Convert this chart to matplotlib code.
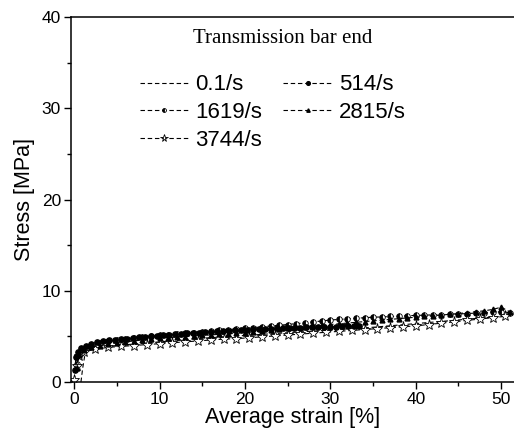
import matplotlib
matplotlib.use("Agg")
import matplotlib.pyplot as plt
from matplotlib.ticker import MultipleLocator

# strain [%] / stress [MPa]
labels = ["0.1/s", "1619/s", "3744/s", "514/s", "2815/s"]

strain_01 = [0.8, 1.0, 1.3, 2.0, 5.0, 10, 15, 20, 25, 30, 35, 40, 45, 50, 51]
stress_01 = [0.0, 1.5, 3.2, 3.6, 4.0, 4.4, 4.8, 5.1, 5.4, 5.7, 6.0, 6.4, 6.8, 7.2, 7.3]

strain_514 = [0.1, 0.2, 0.4, 0.8, 1.4, 2.0, 2.7, 3.4, 4.1, 4.8, 5.5, 6.2, 6.9, 7.6,
              8.3, 9.0, 9.7, 10.4, 11.1, 11.8, 12.5, 13.2, 13.9, 14.6, 15.3, 16.0,
              16.7, 17.4, 18.1, 18.8, 19.5, 20.2, 20.9, 21.6, 22.3, 23.0, 23.7, 24.4,
              25.1, 25.8, 26.5, 27.2, 27.9, 28.6, 29.3, 30.0, 30.7, 31.4, 32.1, 32.8, 33.4]
stress_514 = [1.3, 2.7, 3.3, 3.7, 4.0, 4.2, 4.35, 4.45, 4.55, 4.62, 4.7, 4.76, 4.82, 4.88,
              4.94, 5.0, 5.06, 5.12, 5.18, 5.23, 5.28, 5.33, 5.38, 5.42, 5.46, 5.5,
              5.54, 5.58, 5.62, 5.66, 5.7, 5.73, 5.76, 5.79, 5.82, 5.85, 5.88, 5.9,
              5.92, 5.94, 5.96, 5.98, 6.0, 6.02, 6.04, 6.06, 6.08, 6.1, 6.12, 6.14, 6.15]

strain_1619 = [0.3, 0.7, 1.3, 2, 3, 4, 5, 6, 7, 8, 9, 10, 11, 12, 13, 14, 15, 16, 17,
               18, 19, 20, 21, 22, 23, 24, 25, 26, 27, 28, 29, 30, 31, 32, 33, 34, 35,
               36, 37, 38, 39, 40, 41, 42, 43, 44, 45, 46, 47, 48, 49, 50, 51]
stress_1619 = [2.0, 3.2, 3.7, 4.0, 4.25, 4.45, 4.6, 4.7, 4.8, 4.9, 5.0, 5.1, 5.18, 5.25,
               5.34, 5.4, 5.5, 5.57, 5.66, 5.73, 5.82, 5.9, 5.97, 6.06, 6.13, 6.22, 6.3,
               6.4, 6.48, 6.6, 6.68, 6.8, 6.85, 6.92, 6.97, 7.05, 7.1, 7.13, 7.18, 7.2,
               7.26, 7.3, 7.32, 7.36, 7.38, 7.42, 7.45, 7.5, 7.55, 7.6, 7.64, 7.7, 7.6]

strain_2815 = [0.3, 0.6, 1.2, 2, 3, 4, 5, 6, 7, 8, 9, 10, 11, 12, 13, 14, 15, 16, 17,
               18, 19, 20, 21, 22, 23, 24, 25, 26, 27, 28, 29, 30, 31, 32, 33, 34, 35,
               36, 37, 38, 39, 40, 41, 42, 43, 44, 45, 46, 47, 48, 49, 50, 51]
stress_2815 = [1.5, 3.0, 3.5, 3.8, 4.0, 4.15, 4.3, 4.4, 4.5, 4.6, 4.7, 4.8, 4.86, 4.92,
               4.98, 5.04, 5.1, 5.16, 5.22, 5.28, 5.34, 5.4, 5.5, 5.6, 5.7, 5.8, 5.9,
               5.98, 6.06, 6.14, 6.22, 6.3, 6.38, 6.46, 6.54, 6.62, 6.7, 6.78, 6.86,
               6.94, 7.02, 7.1, 7.18, 7.26, 7.34, 7.42, 7.5, 7.6, 7.7, 7.8, 7.95, 8.2, 7.7]

strain_3744 = [0, 0.3, 0.6, 1.2, 2.5, 4, 5.5, 7, 8.5, 10, 11.5, 13, 14.5, 16, 17.5, 19,
               20.5, 22, 23.5, 25, 26.5, 28, 29.5, 31, 32.5, 34, 35.5, 37, 38.5, 40,
               41.5, 43, 44.5, 46, 47.5, 49, 50.5]
stress_3744 = [0.2, 1.8, 2.8, 3.3, 3.6, 3.8, 3.9, 4.0, 4.1, 4.2, 4.3, 4.4, 4.5, 4.6,
               4.7, 4.75, 4.85, 4.95, 5.05, 5.15, 5.25, 5.35, 5.45, 5.55, 5.65, 5.75,
               5.85, 5.95, 6.05, 6.15, 6.3, 6.45, 6.6, 6.75, 6.9, 7.05, 7.2]

sans = "Liberation Sans"
serif = "Liberation Serif"

fig = plt.figure(figsize=(5.14, 4.30), dpi=100)
ax = fig.add_axes([70.7 / 514, 1 - 382 / 430, 1 - 70.7 / 514, 365 / 430])

dash = (4, 2.5)
ax.plot(strain_01, stress_01, color="black", lw=0.8, dashes=dash, label=labels[0])
ax.plot(strain_1619, stress_1619, color="black", lw=0.8, dashes=dash, marker="o",
        ms=4, fillstyle="left", markerfacecoloralt="white", mew=0.6, label=labels[1])
ax.plot(strain_3744, stress_3744, color="black", lw=0.8, dashes=dash, marker="*",
        ms=8, mfc="white", mew=0.6, label=labels[2])
ax.plot(strain_514, stress_514, color="black", lw=0.8, dashes=dash, marker="o",
        ms=3.8, label=labels[3])
ax.plot(strain_2815, stress_2815, color="black", lw=0.8, dashes=dash, marker="^",
        ms=3.5, label=labels[4])

ax.set_xlim(-0.4, 51.5)
ax.set_ylim(0, 40)
ax.xaxis.set_major_locator(MultipleLocator(10))
ax.xaxis.set_minor_locator(MultipleLocator(5))
ax.yaxis.set_major_locator(MultipleLocator(10))
ax.yaxis.set_minor_locator(MultipleLocator(5))
ax.tick_params(which="major", direction="out", length=5, width=1, labelsize=12.5, pad=2)
ax.tick_params(which="minor", direction="out", length=3, width=1)
ax.spines["right"].set_visible(False)
for s in ["left", "bottom", "top"]:
    ax.spines[s].set_linewidth(1.1)
for t in ax.get_xticklabels() + ax.get_yticklabels():
    t.set_fontfamily(sans)

ax.set_xlabel("Average strain [%]", fontsize=15.5, fontfamily=sans, labelpad=0)
ax.set_ylabel("Stress [MPa]", fontsize=15.5, fontfamily=sans, labelpad=5)

ax.text(0.479, 0.94, "Transmission bar end", transform=ax.transAxes,
        ha="center", va="center", fontsize=15, fontfamily=serif)

ax.legend(loc="upper left", bbox_to_anchor=(0.156, 0.843), ncol=2, frameon=False,
          prop={"family": sans, "size": 16}, handlelength=2.2, handletextpad=0.3,
          columnspacing=0.95, labelspacing=0.3, borderpad=0, borderaxespad=0,
          markerscale=0.7)

fig.savefig("out.png", dpi=100)
